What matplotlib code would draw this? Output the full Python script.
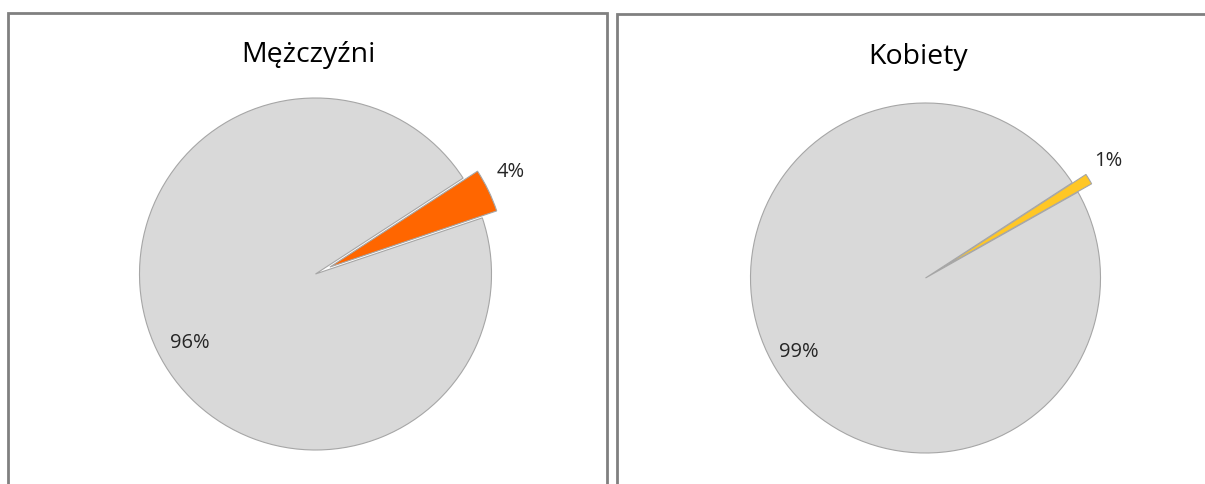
import matplotlib
matplotlib.use("Agg")
import matplotlib.pyplot as plt
from matplotlib.patches import Rectangle

W, H = 1205, 484

titles = ["Mężczyźni", "Kobiety"]
values_men = [4, 96]
values_women = [1, 99]
labels_men = ["4%", "96%"]
labels_women = ["1%", "99%"]
colors_men = ["#FF6600", "#D9D9D9"]
colors_women = ["#FFC726", "#D9D9D9"]

plt.rcParams['font.family'] = ['Open Sans', 'DejaVu Sans']

fig = plt.figure(figsize=(W / 100, H / 100), dpi=100)
ax = fig.add_axes([0, 0, 1, 1])

def Y(y):
    return H - y

panels = [
    dict(values=values_men, labels=labels_men, colors=colors_men, title=titles[0],
         center=(315.5, 274), r=176, title_xy=(308, 55),
         lab_xy=[(511, 172), (190, 343)], box=(8, 13, 599)),
    dict(values=values_women, labels=labels_women, colors=colors_women, title=titles[1],
         center=(925.5, 278), r=175, title_xy=(918, 57),
         lab_xy=[(1108, 161), (799, 352)], box=(617, 14, 600)),
]

for p in panels:
    cx, cy = p["center"]
    ax.pie(p["values"], colors=p["colors"], startangle=33, counterclock=False,
           explode=[16, 0], center=(cx, Y(cy)), radius=p["r"],
           wedgeprops=dict(edgecolor="#A6A6A6", linewidth=0.8))
    ax.text(p["title_xy"][0], Y(p["title_xy"][1]), p["title"], ha="center", va="center",
            fontsize=20.5, color="#000000")
    for (lx, ly), lab in zip(p["lab_xy"], p["labels"]):
        ax.text(lx, Y(ly), lab, ha="center", va="center", fontsize=14.5, color="#262626")
    bx, by, bw = p["box"]
    ax.add_patch(Rectangle((bx, Y(by) - 600), bw, 600, fill=False, edgecolor="#808080",
                           linewidth=2, clip_on=False))

ax.set_xlim(0, W)
ax.set_ylim(0, H)
ax.set_aspect("auto")
ax.axis("off")

fig.savefig("out.png", dpi=100)
